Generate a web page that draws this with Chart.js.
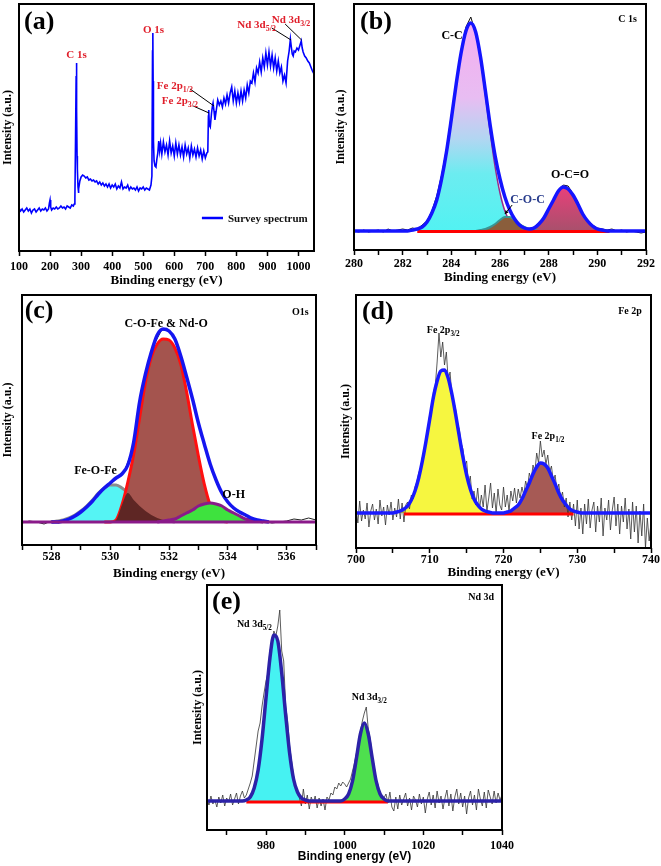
<!DOCTYPE html>
<html><head><meta charset="utf-8">
<script src="https://cdn.jsdelivr.net/npm/chart.js@4.4.1/dist/chart.umd.min.js"></script>
<style>
body{margin:0;background:#fff;}
#wrap{position:relative;width:661px;height:866px;background:#fff;overflow:hidden;}
canvas{position:absolute;}
</style></head>
<body><div id="wrap">
<canvas id="ca" width="330" height="290" style="left:0;top:0"></canvas>
<canvas id="cb" width="331" height="290" style="left:330px;top:0"></canvas>
<canvas id="cc" width="330" height="300" style="left:0;top:290px"></canvas>
<canvas id="cd" width="331" height="300" style="left:330px;top:290px"></canvas>
<canvas id="ce" width="340" height="286" style="left:180px;top:580px"></canvas>
</div>
<script>
// ---------------- DATA ----------------
// (a) survey spectrum
const surveyX = [100,105,110,115,120,125,130,135,140,145,150,155,160,165,170,175,180,185,190,195,
198,200,202,205,210,215,220,225,230,235,240,245,250,255,260,265,270,275,278,280,
282,284,285,286,287,288,290,291,293,296,300,305,310,315,320,325,330,335,340,345,
350,355,360,365,370,375,380,385,390,395,400,405,410,415,420,425,430,435,440,445,
450,455,460,465,470,475,480,485,490,495,500,505,510,515,520,525,528,530,531,532,
533,535,538,541,544,547,550,553,556,560,565,570,575,580,585,590,595,600,605,610,
615,620,625,630,635,640,645,650,655,660,665,670,675,680,685,690,695,700,705,708,
710,711,713,716,720,723,725,728,731,735,740,745,750,755,760,765,770,775,780,785,
790,795,800,805,810,815,820,825,830,835,840,845,850,855,860,865,870,875,880,885,
890,895,900,905,910,915,920,925,930,935,940,945,950,955,960,965,970,974,977,980,
983,986,990,995,1000,1005,1009,1012,1015,1020,1025,1030,1035,1040,1045,1050];
const surveyY = [43,40,42,39,41,43,40,42,38,41,42,39,41,43,40,42,41,43,40,42,
48,51,44,41,43,42,44,42,43,45,43,44,42,45,44,43,46,45,47,52,
110,175,188,140,95,82,64,58,62,70,74,76,75,73,74,71,72,70,71,69,
70,67,69,66,68,65,67,64,67,63,66,64,67,62,65,63,69,62,64,63,
66,61,64,62,63,61,64,60,63,62,64,61,63,62,61,66,75,200,218,170,
110,90,85,84,92,98,110,100,108,97,109,99,106,96,110,98,105,95,108,97,
106,96,104,94,106,97,103,93,105,96,102,94,103,95,101,92,100,93,98,99,
135,141,126,124,138,145,148,140,131,140,151,146,150,144,153,147,156,148,158,164,
150,160,148,158,149,160,150,161,153,166,158,170,168,178,169,183,178,189,179,193,
184,198,186,199,185,196,183,193,180,190,178,184,170,176,168,190,200,212,204,197,
195,200,199,203,201,206,210,203,199,195,193,190,188,184,180,177];

// (b) C 1s
const bRawStart = 280, bRawStep = 0.2;
const bRaw = [0,-1,1,-1,0,1,-1,2,0,1,2,1,3,2,6,10,20,35,56,82,116,150,181,204,214,198,172,139,104,73,
51,33,20,11,5,3,2,4,8,14,23,32,41,46,45,37,27,17,11,6,3,2,1,2,0,1,-1,0,-1,-2,-1];
const bEnvStart = 280, bEnvStep = 0.2;
const bEnv = [0,0,0,0,0,0,0,0,0,0,0,0,
1,2,4,9,18,31,52,79,112,147,178,200,208,199,174,140,105,75,52,34,21,12,6,3,2,3,7,13,22,31,40,44,42,36,27,17,10,5,2,1,
0,0,0,0,0,0,0,0,0];
const ccStart = 282.4, ccStep = 0.2;
const ccY = [1,2,4,9,18,31,52,79,112,147,178,200,208,198,172,136,98,64,38,20,10,5,2,1,0];
const cocStart = 285.0, cocStep = 0.2;
const cocY = [0,1,2,4,7,11,14,14,11,7,4,2,1,0];
const ocoStart = 287.0, ocoStep = 0.2;
const ocoY = [0,1,3,7,13,22,31,40,44,42,36,27,17,10,5,2,1,0];
const bBaseX = [282.6, 290.5], bBaseY = [-0.5, -0.5];

// (c) O 1s
const cRawStart = 527, cRawStep = 0.25;
const cRaw = [-1,1,0,-2,1,-1,2,5,9,17,25,31,38,45,52,72,118,155,178,192,192,180,157,128,100,73,50,32,20,13,8,5,2,1,-1,0,1,3,2,4,2];
const cEnvStart = 528.0, cEnvStep = 0.2;
const cEnv = [0,0,1,3,6,10,15,21,28,34,39,44,48,57,80,120,148,170,187,193,191,183,166,145,123,99,78,58,42,29,20,14,10,7,4,2,1,0];
const cMainStart = 529.8, cMainStep = 0.2;
const cMain = [0,0,2,17,40,68,104,140,165,178,183,182,174,158,130,97,66,38,17,5,1,0];
const cFeStart = 528.0, cFeStep = 0.2;
const cFe = [0,1,2,4,7,11,16,22,29,34,37,37,34,29,22,16,11,7,4,2,1,0];
const cOverStart = 530.0, cOverStep = 0.2;
const cOver = [0,2,17,29,22,16,11,7,4,2,1,0];
const cOHStart = 531.6, cOHStep = 0.2;
const cOH = [0,1,2,3,6,9,12,16,18,19,18,16,12,9,6,3,2,1,0];
const cBaseX = [527, 537], cBaseY = [0, 0];

// (d) Fe 2p
const dRawStart = 700, dRawStep = 0.25;
const dRaw = [5,-10,12,-8, 3,-6,10,-14, 2,9,-7,4, -11,13,-3,6, -12,8,-2,11, -7,5,-4,14, -6,10,-9,8,
11,4,18,14, 26,31,40,45, 56,63,76,84, 99,104,121,127, 151,180,156,171, 148,161,133,141, 118,112,104,89,
84,70,64,47, 52,29,37,14, 22,8,25,4, 18,6,28,2, 15,30,5,20, 0,24,8,3, 26,6,18,2, 22,12,25,10,
24,15,26,18, 32,25,40,33, 48,41,60,50, 72,56,63,49, 58,41,47,32, 38,22,29,14, 21,6,15,-4,
11,-7,9,-13, 13,-16,5,-21, 9,-11,14,-15, 3,11,-19,7, -9,15,-23,5, -7,13,-17,3, 16,-13,9,-21,
7,-9,15,-16, 4,-26,11,-19, 7,-30,2,-23, 9,-35,-5,-28, -10];
const dEnvStart = 700, dEnvStep = 0.5;
const dEnv = [0,0,0,0,0,0,0,0,0,0,
0,1,2,4,7,13,22,35,52,72,94,116,132,142,143,135,119,99,77,56,38,24,14,8,4,2,1,0,
0,0,
0,1,2,5,8,14,22,30,39,46,50,49,45,37,29,20,13,8,4,2,1,0,
0,0,0,0,0,0,0,0,0,0,0,0,0,0,0,0,0,0,0];
const dP32Start = 705, dP32Step = 0.5;
const dP32 = [0,1,2,4,7,13,22,35,52,72,94,116,132,142,143,135,119,99,77,56,38,24,14,8,4,2,1,0];
const dP12Start = 720, dP12Step = 0.5;
const dP12 = [0,1,2,5,8,14,22,30,39,46,50,49,45,37,29,20,13,8,4,2,1,0];
const dBaseX = [706.5, 729.5], dBaseY = [-1, -1];

// (e) Nd 3d
const eRawStart = 965, eRawStep = 0.5;
const eRaw = [2,-4, 5,-3, 1,-6, 4,-2, 6,-5, 3,-1, 7,-4, 2,8, -3,5, 10,3, 6,12, 18,25, 40,55, 70,78,
95,108, 120,128, 150,158, 170,165, 175,191, 150,140, 95,80, 55,40, 25,15, 8,3, -5,12, -3,6, -8,4,
-2,5, -7,3, -5,2, -9,4, 1,8, 6,14, 12,18, 15,19, 17,14, 18,22, 30,38, 48,58, 70,80, 88,94, 72,62,
45,35, 22,16, 8,5, 3,7, -2,9, -6,-10, 4,-8, 6,-4, 2,8, -5,3, -9,5, 1,-6, 7,-3, 4,-12, 2,9, -4,6,
-7,10, -2,5, -8,3, 11,-5, 7,-10, 4,12, -3,8, -6,5, -13,3, 10,-4, 6,-9, 12,2, -5,9, -7,11, 4,-3,
10,-2, 8,1, 6];
const eEnvStart = 965, eEnvStep = 1;
const eEnv = [0,0,0,0,0,0,0,0,0,
0,1,4,13,31,62,103,143,166,160,128,86,48,22,9,3,1,0,
0,0,0,0,0,0,0,
0,2,7,20,43,67,78,67,43,20,7,2,0,
0,0,0,0,0,0,0,0,0,0,0,0,0,0,0,0,0,0,0,0,0,0,0,0,0,0,0,0,0];
const eD52Start = 974, eD52Step = 1;
const eD52 = [0,1,4,13,31,62,103,143,166,160,128,86,48,22,9,3,1,0];
const eD32Start = 999, eD32Step = 1;
const eD32 = [0,2,7,20,43,67,78,67,43,20,7,2,0];
const eBaseX = [975, 1011], eBaseY = [-1, -1];

// ---------------- HELPERS ----------------
const SERIF = '"Liberation Serif", "Times New Roman", Times, serif';
const SANS = '"Liberation Sans", Arial, Helvetica, sans-serif';

function series(start, step, ys) { return ys.map((y, i) => ({ x: +(start + i * step).toFixed(3), y })); }
function pairs(xs, ys) { return xs.map((x, i) => ({ x, y: ys[i] })); }

function ds(data, o) {
  return Object.assign({ data, borderColor: '#000', borderWidth: 1, pointRadius: 0, fill: false,
    tension: 0, backgroundColor: 'rgba(0,0,0,0)' }, o);
}
function fit(data, o) {
  return ds(data, Object.assign({ cubicInterpolationMode: 'monotone' }, o));
}

function drawNote(ctx, xs, ys, n) {
  const px = xs.getPixelForValue(n.x), py = ys.getPixelForValue(n.y);
  const fam = n.family || SERIF;
  const size = n.size || 12;
  const parts = n.parts || [[n.text, 0]];
  ctx.save();
  ctx.fillStyle = n.color || '#000';
  ctx.textBaseline = 'alphabetic';
  const widths = parts.map(([t, s]) => { ctx.font = 'bold ' + (s ? size * 0.72 : size) + 'px ' + fam; return ctx.measureText(t).width; });
  const total = widths.reduce((a, b) => a + b, 0);
  let x = n.align === 'center' ? px - total / 2 : (n.align === 'right' ? px - total : px);
  parts.forEach(([t, s], i) => {
    ctx.font = 'bold ' + (s ? size * 0.72 : size) + 'px ' + fam;
    ctx.fillText(t, x, py + (s ? size * 0.3 : 0));
    x += widths[i];
  });
  ctx.restore();
}

function makeChart(id, p) {
  const overlay = {
    id: 'overlay_' + id,
    afterDraw(chart) {
      const { ctx, chartArea: a } = chart;
      const xs = chart.scales.x, ys = chart.scales.y;
      ctx.save();
      (p.lines || []).forEach(l => {
        const x1 = xs.getPixelForValue(l.x1), y1 = ys.getPixelForValue(l.y1);
        const x2 = xs.getPixelForValue(l.x2), y2 = ys.getPixelForValue(l.y2);
        ctx.strokeStyle = l.color || '#000'; ctx.lineWidth = l.width || 1;
        ctx.beginPath(); ctx.moveTo(x1, y1); ctx.lineTo(x2, y2); ctx.stroke();
        if (l.arrow) {
          const ang = Math.atan2(y2 - y1, x2 - x1), s = 4;
          ctx.fillStyle = l.color || '#000';
          ctx.beginPath(); ctx.moveTo(x2, y2);
          ctx.lineTo(x2 - s * Math.cos(ang - 0.5), y2 - s * Math.sin(ang - 0.5));
          ctx.lineTo(x2 - s * Math.cos(ang + 0.5), y2 - s * Math.sin(ang + 0.5));
          ctx.closePath(); ctx.fill();
        }
      });
      (p.notes || []).forEach(n => drawNote(ctx, xs, ys, n));
      ctx.strokeStyle = '#000'; ctx.lineWidth = 2;
      ctx.strokeRect(a.left, a.top, a.right - a.left, a.bottom - a.top);
      ctx.restore();
    }
  };
  const tickFont = { family: SERIF, size: 12, weight: 'bold' };
  return new Chart(document.getElementById(id), {
    type: 'line',
    data: { datasets: p.datasets },
    plugins: [overlay],
    options: {
      responsive: false, animation: false, devicePixelRatio: 1,
      layout: { padding: { left: 0, right: p.padRight, top: p.padTop, bottom: 0 } },
      plugins: { legend: { display: false }, tooltip: { enabled: false } },
      elements: { point: { radius: 0 } },
      scales: {
        x: {
          type: 'linear', min: p.xMin, max: p.xMax,
          afterFit: s => { s.height = p.xAxisH; },
          border: { display: false },
          grid: { display: true, drawOnChartArea: false, drawTicks: true, tickLength: 5, tickWidth: 1.5, tickColor: '#000' },
          ticks: { stepSize: p.xStep, autoSkip: false, maxRotation: 0, minRotation: 0, includeBounds: false,
            padding: p.tickPad, color: '#000', font: tickFont,
            callback: v => (Math.abs(v % p.major) < 1e-6 ? String(v) : '') },
          title: { display: true, text: 'Binding energy (eV)', color: '#000',
            font: { family: p.xTitleFamily || SERIF, size: p.xTitleSize || 13, weight: 'bold' },
            padding: { top: 0, bottom: p.xTitlePad } }
        },
        y: {
          min: p.yMin, max: p.yMax,
          afterFit: s => { s.width = p.yAxisW; },
          border: { display: false },
          grid: { display: false },
          ticks: { display: false },
          title: { display: true, text: 'Intensity (a.u.)', color: '#000',
            font: { family: SERIF, size: 12, weight: 'bold' },
            padding: { top: p.yTitlePad, bottom: 0 } }
        }
      }
    }
  });
}

// ---------------- (a) ----------------
makeChart('ca', {
  xMin: 100, xMax: 1050, xStep: 100, major: 100, yMin: 0, yMax: 247,
  yAxisW: 19, xAxisH: 39, padRight: 16, padTop: 4, yTitlePad: 1, xTitlePad: 2, tickPad: 4,
  datasets: [ ds(pairs(surveyX, surveyY), { borderColor: '#0000ff', borderWidth: 1.6 }) ],
  lines: [
    { x1: 651, y1: 162, x2: 728, y2: 145 },
    { x1: 661, y1: 145, x2: 712, y2: 138 },
    { x1: 914, y1: 223, x2: 976, y2: 211 },
    { x1: 957, y1: 227, x2: 1010, y2: 211 },
    { x1: 689, y1: 33, x2: 757, y2: 33, color: '#0000ff', width: 2.5 }
  ],
  notes: [
    { x: 116, y: 222, text: '(a)', size: 26 },
    { x: 285, y: 193, text: 'C 1s', size: 11, color: '#e01e2a', align: 'center' },
    { x: 533, y: 218, text: 'O 1s', size: 11, color: '#e01e2a', align: 'center' },
    { x: 544, y: 162, parts: [['Fe 2p', 0], ['1/2', 1]], size: 11, color: '#e01e2a' },
    { x: 560, y: 147, parts: [['Fe 2p', 0], ['3/2', 1]], size: 11, color: '#e01e2a' },
    { x: 803, y: 223, parts: [['Nd 3d', 0], ['5/2', 1]], size: 11, color: '#e01e2a' },
    { x: 914, y: 228, parts: [['Nd 3d', 0], ['3/2', 1]], size: 11, color: '#e01e2a' },
    { x: 773, y: 29, text: 'Survey spectrum', size: 11, color: '#111' }
  ]
});

// ---------------- (b) ----------------
makeChart('cb', {
  xMin: 280, xMax: 292, xStep: 1, major: 2, yMin: -19, yMax: 227,
  yAxisW: 24, xAxisH: 40, padRight: 15, padTop: 4, yTitlePad: 4, xTitlePad: 5, tickPad: 2,
  datasets: [
    fit(series(ccStart, ccStep, ccY), { order: 9, fill: 'origin', borderColor: '#9a2a8a', borderWidth: 1.5,
      backgroundColor: ctx => {
        const ch = ctx.chart; if (!ch.chartArea) return 'rgba(0,0,0,0)';
        const ys = ch.scales.y;
        const g = ch.ctx.createLinearGradient(0, ys.getPixelForValue(205), 0, ys.getPixelForValue(0));
        g.addColorStop(0, '#f4aef0'); g.addColorStop(0.35, '#e8bdf2'); g.addColorStop(0.55, '#b2d6f2');
        g.addColorStop(0.72, '#6cecf0'); g.addColorStop(1, '#52f2f2');
        return g;
      } }),
    fit(series(cocStart, cocStep, cocY), { order: 8, fill: 'origin', borderColor: '#3a9494', borderWidth: 2, backgroundColor: '#8a5e3c' }),
    fit(series(ocoStart, ocoStep, ocoY), { order: 8, fill: 'origin', borderColor: '#c03a66', borderWidth: 1.5,
      backgroundColor: ctx => {
        const ch = ctx.chart; if (!ch.chartArea) return 'rgba(0,0,0,0)';
        const ys = ch.scales.y;
        const g = ch.ctx.createLinearGradient(0, ys.getPixelForValue(44), 0, ys.getPixelForValue(0));
        g.addColorStop(0, '#e8407a'); g.addColorStop(1, '#a8506c');
        return g;
      } }),
    ds(pairs(bBaseX, bBaseY), { order: 6, borderColor: '#ff0000', borderWidth: 3 }),
    ds(series(bRawStart, bRawStep, bRaw), { order: 5, borderColor: '#111', borderWidth: 1 }),
    fit(series(bEnvStart, bEnvStep, bEnv), { order: 1, borderColor: '#1414ff', borderWidth: 3.5 })
  ],
  lines: [ { x1: 286.5, y1: 26, x2: 286.2, y2: 17, arrow: true } ],
  notes: [
    { x: 280.25, y: 202, text: '(b)', size: 26 },
    { x: 291.24, y: 209, text: 'C 1s', size: 10, align: 'center' },
    { x: 284.03, y: 192, text: 'C-C', size: 12, align: 'center' },
    { x: 287.13, y: 28, text: 'C-O-C', size: 12, align: 'center', color: '#283c8c' },
    { x: 288.88, y: 53, text: 'O-C=O', size: 12, align: 'center' }
  ]
});

// ---------------- (c) ----------------
makeChart('cc', {
  xMin: 527, xMax: 537, xStep: 1, major: 2, yMin: -23, yMax: 227,
  yAxisW: 22, xAxisH: 45, padRight: 14, padTop: 5, yTitlePad: 1, xTitlePad: 9, tickPad: 0,
  datasets: [
    ds(series(cRawStart, cRawStep, cRaw), { order: 12, borderColor: '#222', borderWidth: 1 }),
    fit(series(cFeStart, cFeStep, cFe), { order: 10, fill: 'origin', borderColor: '#8c8c8c', borderWidth: 3, backgroundColor: '#55f4f4' }),
    fit(series(cMainStart, cMainStep, cMain), { order: 9, fill: 'origin', borderColor: '#ff1010', borderWidth: 3, backgroundColor: '#a4544e' }),
    fit(series(cOverStart, cOverStep, cOver), { order: 8, fill: 'origin', borderColor: 'rgba(0,0,0,0)', borderWidth: 0, backgroundColor: '#5e2624' }),
    fit(series(cOHStart, cOHStep, cOH), { order: 7, fill: 'origin', borderColor: '#8a1a8a', borderWidth: 3, backgroundColor: '#3ee23e' }),
    fit(series(cEnvStart, cEnvStep, cEnv), { order: 2, borderColor: '#1515f0', borderWidth: 3.5 }),
    ds(pairs(cBaseX, cBaseY), { order: 1, borderColor: '#8a1a8a', borderWidth: 3 })
  ],
  notes: [
    { x: 527.09, y: 204, text: '(c)', size: 26 },
    { x: 536.47, y: 207, text: 'O1s', size: 10, align: 'center' },
    { x: 531.9, y: 195, text: 'C-O-Fe & Nd-O', size: 12, align: 'center' },
    { x: 529.5, y: 48, text: 'Fe-O-Fe', size: 12, align: 'center' },
    { x: 534.2, y: 24, text: 'O-H', size: 12, align: 'center' }
  ]
});

// ---------------- (d) ----------------
makeChart('cd', {
  xMin: 700, xMax: 740, xStep: 5, major: 10, yMin: -35, yMax: 218,
  yAxisW: 26, xAxisH: 42, padRight: 10, padTop: 5, yTitlePad: 9, xTitlePad: 10, tickPad: 0,
  datasets: [
    fit(series(dP32Start, dP32Step, dP32), { order: 9, fill: 'origin', borderColor: 'rgba(0,0,0,0)', borderWidth: 0, backgroundColor: '#f6f640' }),
    fit(series(dP12Start, dP12Step, dP12), { order: 9, fill: 'origin', borderColor: 'rgba(0,0,0,0)', borderWidth: 0, backgroundColor: '#a65a55' }),
    ds(series(dRawStart, dRawStep, dRaw), { order: 5, borderColor: '#333', borderWidth: 0.8 }),
    ds(pairs(dBaseX, dBaseY), { order: 4, borderColor: '#ff0000', borderWidth: 3 }),
    fit(series(dEnvStart, dEnvStep, dEnv), { order: 1, borderColor: '#1a1aff', borderWidth: 3.5 })
  ],
  notes: [
    { x: 700.8, y: 194, text: '(d)', size: 26 },
    { x: 737.15, y: 199, text: 'Fe 2p', size: 10, align: 'center' },
    { x: 709.6, y: 180, parts: [['Fe 2p', 0], ['3/2', 1]], size: 10 },
    { x: 723.8, y: 74, parts: [['Fe 2p', 0], ['1/2', 1]], size: 10 }
  ]
});

// ---------------- (e) ----------------
makeChart('ce', {
  xMin: 965, xMax: 1040, xStep: 10, major: 20, yMin: -29, yMax: 216,
  yAxisW: 27, xAxisH: 36, padRight: 18, padTop: 5, yTitlePad: 11, xTitlePad: 2, tickPad: 4,
  xTitleFamily: SANS, xTitleSize: 12,
  datasets: [
    fit(series(eD52Start, eD52Step, eD52), { order: 9, fill: 'origin', borderColor: 'rgba(0,0,0,0)', borderWidth: 0, backgroundColor: '#46f2f2' }),
    fit(series(eD32Start, eD32Step, eD32), { order: 9, fill: 'origin', borderColor: 'rgba(0,0,0,0)', borderWidth: 0, backgroundColor: '#4ee04e' }),
    ds(series(eRawStart, eRawStep, eRaw), { order: 5, borderColor: '#333', borderWidth: 0.8 }),
    ds(pairs(eBaseX, eBaseY), { order: 4, borderColor: '#ff0000', borderWidth: 3 }),
    fit(series(eEnvStart, eEnvStep, eEnv), { order: 1, borderColor: '#2c22a8', borderWidth: 3.5 })
  ],
  notes: [
    { x: 966.3, y: 192, text: '(e)', size: 26 },
    { x: 1034.7, y: 201, text: 'Nd 3d', size: 10, align: 'center' },
    { x: 972.6, y: 174, parts: [['Nd 3d', 0], ['5/2', 1]], size: 10 },
    { x: 1001.8, y: 101, parts: [['Nd 3d', 0], ['3/2', 1]], size: 10 }
  ]
});
</script>
</body></html>
